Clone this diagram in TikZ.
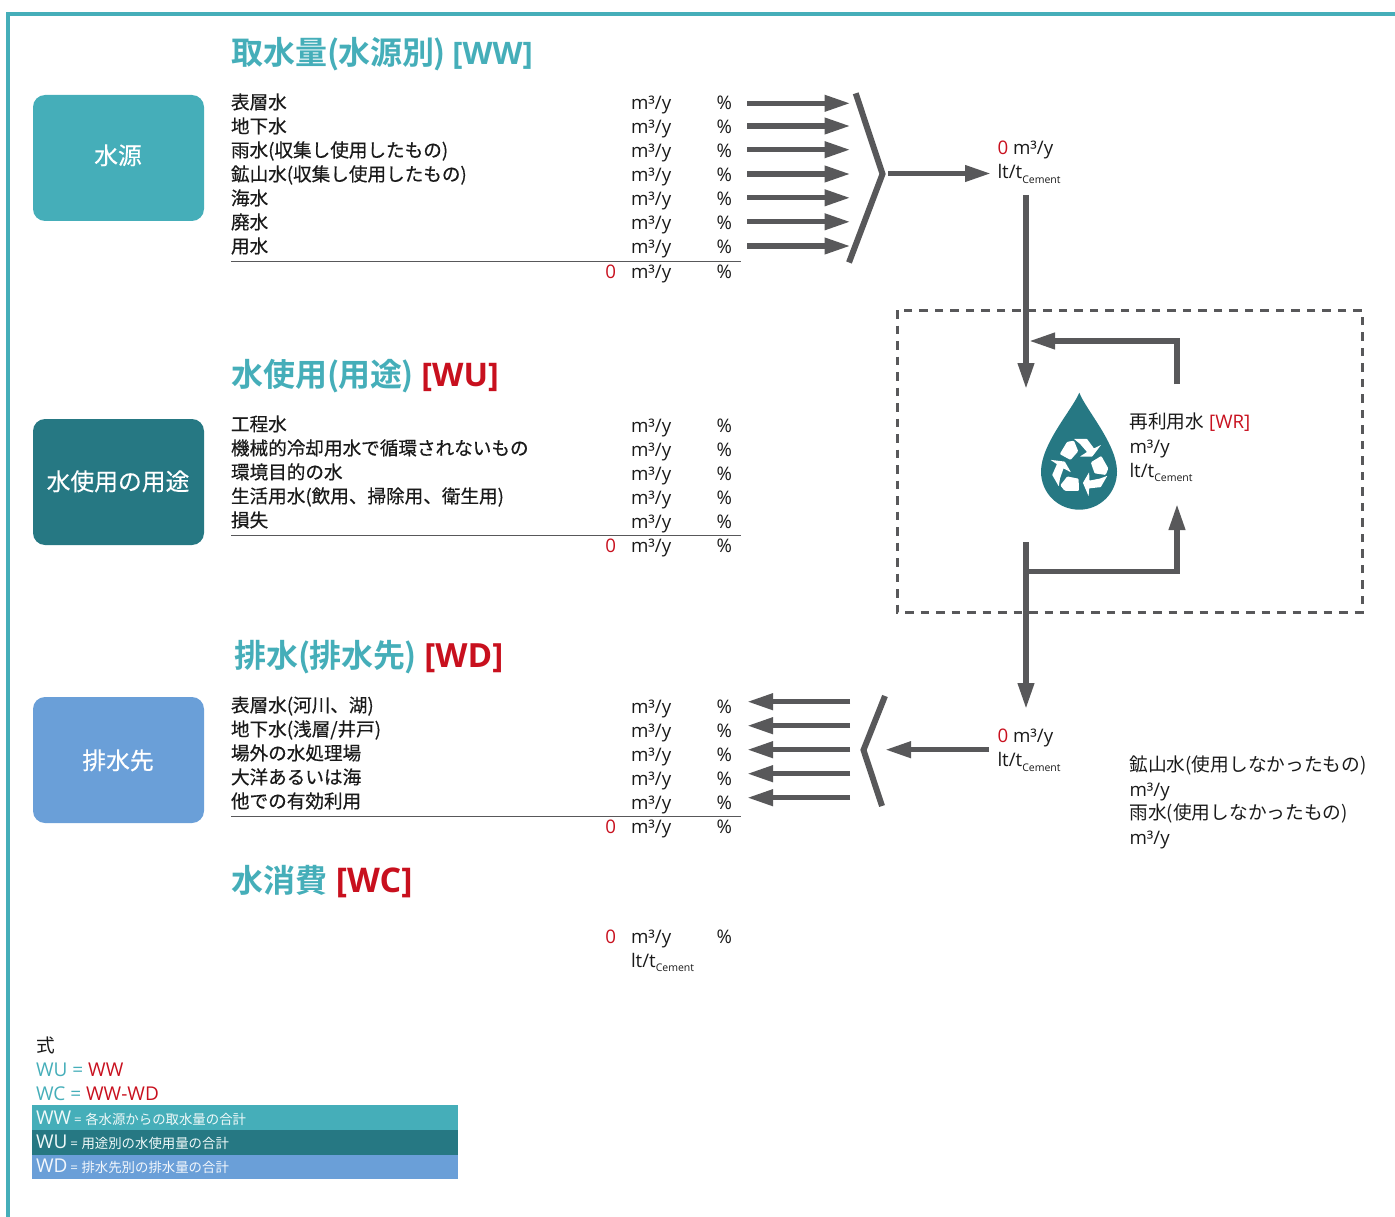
\documentclass[tikz,border=0pt]{standalone}
\usepackage{fontspec}
\setmainfont{Open Sans}
\newfontfamily\cjk[FakeBold=0.45]{Noto Sans CJK JP}
\newfontfamily\cjkm[FakeBold=0.3]{Noto Sans CJK JP}
\newfontfamily\cjkr{Noto Sans CJK JP}
\newfontfamily\cjkb[BoldFont={Noto Sans CJK JP Bold}]{Noto Sans CJK JP}
\usetikzlibrary{arrows.meta}
\definecolor{teal1}{HTML}{45AEB9}
\definecolor{teal2}{HTML}{267883}
\definecolor{blue1}{HTML}{6A9FD8}
\definecolor{red1}{HTML}{C8101E}
\definecolor{grey1}{HTML}{58585A}
\definecolor{ink}{HTML}{1A1A1A}
\tikzset{
  txt/.style={anchor=base west,inner sep=0pt,outer sep=0pt,text=ink,yshift=-0.8pt,font=\fontsize{18.7}{20}\selectfont},
  lab/.style={anchor=base west,inner sep=0pt,outer sep=0pt,text=ink,font=\fontsize{18.6}{20}\selectfont\cjk},
  zero/.style={txt,anchor=base east,text=red1},
  title/.style={anchor=base west,inner sep=0pt,outer sep=0pt,text=teal1,font=\fontsize{32}{34}\selectfont\bfseries},
  srcbox/.style={rectangle,rounded corners=12pt,minimum width=171pt,minimum height=126pt,inner sep=0pt},
  boxt/.style={inner sep=0pt,text=white,font=\fontsize{23.8}{26}\selectfont\cjkm},
  arr/.style={draw=grey1,line width=5.4pt,-{Triangle[length=26pt,width=15.5pt]}},
  brk/.style={draw=grey1,line width=6pt,line join=miter},
  rule/.style={draw=grey1,line width=1pt},
  lgd/.style={anchor=base west,inner sep=0pt,outer sep=0pt,font=\fontsize{19}{20}\selectfont},
}
\newcommand{\ltt}{lt/t{\raisebox{-4.5pt}{\fontsize{10.5}{12}\selectfont Cement}}}
\newcommand{\valrow}[2]{\node[txt] (u#1) at (631,#2) {m³/y}; \node[txt] (p#1) at (716.5,#2) {\%};}
\newcommand{\labrow}[4]{\node[lab] (l#1) at (231,#2) {#4}; \valrow{#1}{#3}}
\newcommand{\zerorow}[2]{\node[zero] (z#1) at (616,#2) {0}; \valrow{#1}{#2}}
\begin{document}
\begin{tikzpicture}[x=1pt,y=-1pt]
\useasboundingbox (0,0) rectangle (1395,1217);
% frame
\coordinate (f1) at (8,1217); \coordinate (f2) at (8,14); \coordinate (f3) at (1395,14);
\draw[teal1,line width=4pt,line join=miter] (f1) -- (f2) -- (f3);
% category boxes
\node[srcbox,fill=teal1] (bsrc) at (118.5,158) {}; \node[boxt] (tsrc) at (118,155.3) {水源};
\node[srcbox,fill=teal2] (buse) at (118.5,482) {}; \node[boxt] (tuse) at (118,481.3) {水使用の用途};
\node[srcbox,fill=blue1] (bdis) at (118.5,760) {}; \node[boxt] (tdis) at (118,760.3) {排水先};
% titles
\node[title] (t1) at (231,64.5) {\cjkb\bfseries 取水量(\kern-1pt 水源別\kern-1pt) {\rmfamily\fontsize{31}{34}\selectfont [WW]}};
\node[title] (t2) at (231,386) {\cjkb\bfseries 水使用(\kern-1pt 用途\kern-1pt) \kern1pt\textcolor{red1}{\rmfamily\fontsize{32.5}{34}\selectfont [WU]}};
\node[title] (t3) at (234,667) {\cjkb\bfseries 排水(\kern-1pt 排水先\kern-1pt) \kern1pt\textcolor{red1}{\rmfamily\fontsize{33.3}{34}\selectfont [WD]}};
\node[title] (t4) at (231,892) {\cjkb\bfseries 水消費 \kern1.5pt\textcolor{red1}{\rmfamily\fontsize{34}{34}\selectfont [WC]}};
% section 1
\labrow{a1}{109}{109}{表層水}
\labrow{a2}{133}{133}{地下水}
\labrow{a3}{157}{157}{雨水(収集し使用したもの)}
\labrow{a4}{181}{181}{鉱山水(収集し使用したもの)}
\labrow{a5}{205}{205}{海水}
\labrow{a6}{229}{229}{廃水}
\labrow{a7}{253}{253}{用水}
\zerorow{a8}{278}
\coordinate (r1a) at (231,261.5); \coordinate (r1b) at (741,261.5); \draw[rule] (r1a) -- (r1b);
% section 2
\labrow{b1}{431}{432}{工程水}
\labrow{b2}{455}{456}{機械的冷却用水で循環されないもの}
\labrow{b3}{479}{480}{環境目的の水}
\labrow{b4}{503}{504}{生活用水(飲用、掃除用、衛生用)}
\labrow{b5}{527}{528}{損失}
\zerorow{b6}{552}
\coordinate (r2a) at (231,535); \coordinate (r2b) at (741,535); \draw[rule] (r2a) -- (r2b);
% section 3
\labrow{c1}{712}{713}{表層水(河川、湖)}
\labrow{c2}{736}{737}{地下水(浅層/井戸)}
\labrow{c3}{760}{761}{場外の水処理場}
\labrow{c4}{784}{785}{大洋あるいは海}
\labrow{c5}{808}{809}{他での有効利用}
\zerorow{c6}{833}
\coordinate (r3a) at (231,816); \coordinate (r3b) at (741,816); \draw[rule] (r3a) -- (r3b);
% section 4
\zerorow{d1}{942.5}
\node[txt] (d2) at (631,966.5) {\ltt};
% fan in
\foreach \i/\y in {1/103.3,2/126,3/149.7,4/174,5/197.8,6/221.8,7/246}{
  \coordinate (ia\i) at (747,\y); \coordinate (ib\i) at (850.5,\y);
  \draw[arr] (ia\i) -- (ib\i);
}
\coordinate (k1) at (855.7,93.3); \coordinate (k2) at (882.5,174); \coordinate (k3) at (849,262.5);
\draw[brk] (k1) -- (k2) -- (k3);
\coordinate (m1) at (888,173.5); \coordinate (m2) at (991,173.5);
\draw[arr] (m1) -- (m2);
\node[txt] (n1) at (997.5,154) {\textcolor{red1}{0} m³/y};
\node[txt] (n2) at (997.5,178) {\ltt};
% dashed box
\coordinate (da) at (897,310); \coordinate (db) at (1362,612);
\draw[grey1,line width=3pt,dash pattern=on 8.5pt off 7pt] (da) rectangle (db);
% main flow
\coordinate (v1) at (1026,195); \coordinate (v2) at (1026,389);
\draw[arr] (v1) -- (v2);
\coordinate (w1) at (1177,384); \coordinate (w2) at (1177,341); \coordinate (w3) at (1029,341);
\draw[arr] (w1) -- (w2) -- (w3);
\coordinate (x1) at (1026,542); \coordinate (x2) at (1026,709);
\draw[arr] (x1) -- (x2);
\coordinate (y1) at (1026,571.5); \coordinate (y2) at (1177,571.5); \coordinate (y3) at (1177,504);
\draw[arr] (y1) -- (y2) -- (y3);
% drop with recycle icon
\fill[teal2] (1079.3,392.7) .. controls (1086,410) and (1117,444) .. (1117,471.5)
  .. controls (1117,493) and (1100,509.7) .. (1079.3,509.7)
  .. controls (1058,509.7) and (1041,493) .. (1041,471.5)
  .. controls (1041,444) and (1072,410) .. (1079.3,392.7) -- cycle;
\foreach \a in {0,120,240}{
  \begin{scope}[shift={(1080,467)},rotate=\a,scale=1.05]
    \fill[white,rounded corners=1pt] (-19.3,-12.3) -- (-12.3,-24) -- (-5.7,-25) -- (-1.7,-15) -- (-9,-6.7) -- cycle;
    \fill[white,rounded corners=0.4pt] (-5.7,-26.7) -- (6.7,-26.7) -- (13.3,-17.7) -- (20,-21) -- (11.7,-10) -- (0,-10) -- (6.7,-14.3) -- (0,-22) -- cycle;
  \end{scope}
}
\node[txt] (ra) at (1129.5,428) {{\cjkr 再利用水} \textcolor{red1}{[WR]}};
\node[txt] (rb) at (1129.5,452.5) {m³/y};
\node[txt] (rc) at (1129.5,476.5) {\ltt};
% fan out
\foreach \i/\y in {1/701.7,2/725.7,3/749.7,4/773.7,5/797.7}{
  \coordinate (oa\i) at (850,\y); \coordinate (ob\i) at (747,\y);
  \draw[arr] (oa\i) -- (ob\i);
}
\coordinate (q1) at (885,696); \coordinate (q2) at (863.5,750); \coordinate (q3) at (882,806);
\draw[brk] (q1) -- (q2) -- (q3);
\coordinate (s1) at (989,749.7); \coordinate (s2) at (885,749.7);
\draw[arr] (s1) -- (s2);
\node[txt] (n3) at (997.5,742) {\textcolor{red1}{0} m³/y};
\node[txt] (n4) at (997.5,766) {\ltt};
\node[txt] (e1) at (1129.5,771) {\cjkr 鉱山水(使用しなかったもの)};
\node[txt] (e2) at (1129.5,796) {m³/y};
\node[txt] (e3) at (1129.5,819) {\cjkr 雨水(使用しなかったもの)};
\node[txt] (e4) at (1129.5,844) {m³/y};
% legend
\node[txt] (g0) at (36,1052) {\cjkr 式};
\node[lgd,text=teal1] (g1) at (36,1076) {WU = \textcolor{red1}{WW}};
\node[lgd,text=teal1] (g2) at (36,1100) {WC = \textcolor{red1}{WW-WD}};
\fill[teal1] (32,1105) rectangle (458,1130);
\fill[teal2] (32,1130) rectangle (458,1154.5);
\fill[blue1] (32,1154.5) rectangle (458,1179);
\node[lgd,text=white!92!teal1] (g3) at (36,1124) {WW\kern-2pt\ {\fontsize{13.4}{16}\selectfont = \cjkr 各水源からの取水量の合計}};
\node[lgd,text=white!92!teal1] (g4) at (36,1148) {WU\kern-2pt\ {\fontsize{13.4}{16}\selectfont = \cjkr 用途別の水使用量の合計}};
\node[lgd,text=white!92!blue1] (g5) at (36,1172) {WD\kern-2pt\ {\fontsize{13.4}{16}\selectfont = \cjkr 排水先別の排水量の合計}};
\end{tikzpicture}
\end{document}
